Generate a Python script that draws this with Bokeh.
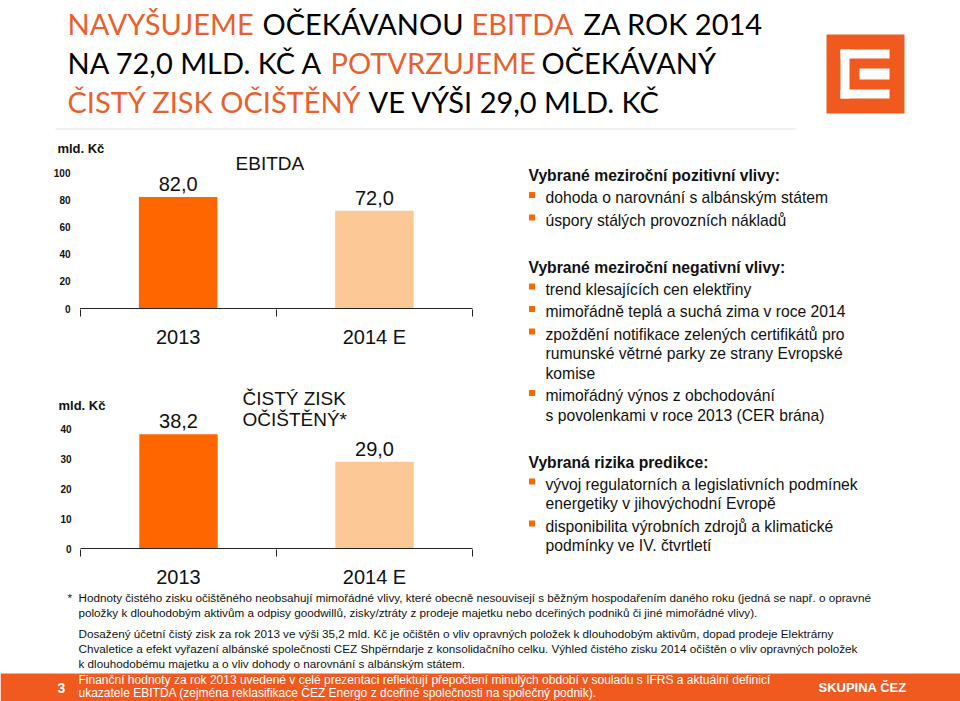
from bokeh.plotting import figure
from bokeh.layouts import column, row
from bokeh.models import Range1d, FixedTicker, Label
from bokeh.embed import file_html
from bokeh.resources import INLINE
from bokeh.core.properties import value

# ---------------- data ----------------
categories = ["2013", "2014 E"]
ebitda = [82.0, 72.0]
net_income = [38.2, 29.0]
ebitda_ticks = [0, 20, 40, 60, 80, 100]
net_ticks = [0, 10, 20, 30, 40]
unit_label = "mld. Kč"
ebitda_title = ["EBITDA"]
net_title = ["ČISTÝ ZISK", "OČIŠTĚNÝ*"]

title_lines = [
    [("NAVYŠUJEME", "o"), ("OČEKÁVANOU", "k"), ("EBITDA", "o"), ("ZA ROK 2014", "k")],
    [("NA 72,0 MLD. KČ A", "k"), ("POTVRZUJEME", "o"), ("OČEKÁVANÝ", "k")],
    [("ČISTÝ ZISK OČIŠTĚNÝ", "o"), ("VE VÝŠI 29,0 MLD. KČ", "k")],
]
# left edge of each title segment (page px)
title_starts = [[67, 262, 471, 583], [67, 330, 541], [67, 368]]

groups = [
    ("Vybrané meziroční pozitivní vlivy:", [
        ["dohoda o narovnání s albánským státem"],
        ["úspory stálých provozních nákladů"],
    ]),
    ("Vybrané meziroční negativní vlivy:", [
        ["trend klesajících cen elektřiny"],
        ["mimořádně teplá a suchá zima v roce 2014"],
        ["zpoždění notifikace zelených certifikátů pro",
         "rumunské větrné parky ze strany Evropské", "komise"],
        ["mimořádný výnos z obchodování",
         "s povolenkami v roce 2013 (CER brána)"],
    ]),
    ("Vybraná rizika predikce:", [
        ["vývoj regulatorních a legislativních podmínek",
         "energetiky v jihovýchodní Evropě"],
        ["disponibilita výrobních zdrojů a klimatické",
         "podmínky ve IV. čtvrtletí"],
    ]),
]

footnote_star = ["Hodnoty čistého zisku očištěného neobsahují mimořádné vlivy, které obecně nesouvisejí s běžným hospodařením daného roku (jedná se např. o opravné",
                 "položky k dlouhodobým aktivům a odpisy goodwillů, zisky/ztráty z prodeje majetku nebo dceřiných podniků či jiné mimořádné vlivy)."]
footnote_note = ["Dosažený účetní čistý zisk za rok 2013 ve výši 35,2 mld. Kč je očištěn o vliv opravných položek k dlouhodobým aktivům, dopad prodeje Elektrárny",
                 "Chvaletice a efekt vyřazení albánské společnosti CEZ Shpërndarje z konsolidačního celku. Výhled čistého zisku 2014 očištěn o vliv opravných položek",
                 "k dlouhodobému majetku a o vliv dohody o narovnání s albánským státem."]
footer_lines = ["Finanční hodnoty za rok 2013 uvedené v celé prezentaci reflektují přepočtení minulých období v souladu s IFRS a aktuální definicí",
                "ukazatele EBITDA (zejména reklasifikace ČEZ Energo z dceřiné společnosti na společný podnik)."]
page_number = "3"
brand_text = "SKUPINA ČEZ"

# ---------------- styles ----------------
BAR_COLORS = ["#FF6600", "#FBC896"]
TITLE_ORANGE = "#E8612C"
BRAND = "#F15A1F"
INK = "#111111"
FONT = "Liberation Sans"
TITLE_FONT = "Lato"


def fmt(v):
    return f"{v:.1f}".replace(".", ",")


def blank(x0, x1, y0, y1):
    p = figure(width=x1 - x0, height=y1 - y0, x_range=Range1d(x0, x1), y_range=Range1d(y1, y0),
               x_axis_location=None, y_axis_location=None, min_border=0,
               outline_line_color=None, toolbar_location=None, output_backend="svg")
    p.grid.visible = False
    return p


def bar_chart(vals, ticks, fig_box, axis_box, frame_left, top, label_right,
              title_lines, title_pos, unit_pos):
    fx0, fx1, fy0, fy1 = fig_box
    ax0, ax1, y_zero, y_tickmax = axis_box   # page px of x=0, x=n, y=0, y=max tick
    n = len(categories)
    ppx = (ax1 - ax0) / n                     # px per category
    ppy = (y_zero - y_tickmax) / ticks[-1]    # px per unit
    frame_right = ax1 + 2
    bottom = y_zero + 1
    p = figure(width=fx1 - fx0, height=fy1 - fy0,
               x_range=Range1d((frame_left - ax0) / ppx, (frame_right - ax0) / ppx),
               y_range=Range1d((y_zero - bottom) / ppy, (y_zero - top) / ppy),
               min_border_left=frame_left - fx0, min_border_right=fx1 - frame_right,
               min_border_top=top - fy0, min_border_bottom=fy1 - bottom,
               outline_line_color=None, toolbar_location=None, output_backend="svg")
    p.grid.visible = False

    def dx(px):
        return (px - ax0) / ppx

    def dy(py):
        return (y_zero - py) / ppy

    xs = [i + 0.5 for i in range(n)]
    p.vbar(x=xs, top=vals, bottom=0, width=0.4, color=BAR_COLORS, line_color=None)
    p.segment(x0=[0], y0=[0], x1=[n], y1=[0], line_color="#222222", line_width=1)
    p.text(x=xs, y=[v + 13.5 / ppy for v in vals], text=[fmt(v) for v in vals],
           text_align="center", text_baseline="middle", text_font=value(FONT),
           text_font_size="20px", text_color=INK)

    xa = p.xaxis[0]
    xa.ticker = FixedTicker(ticks=xs, minor_ticks=list(range(n + 1)))
    xa.major_label_overrides = {x: c for x, c in zip(xs, categories)}
    xa.major_tick_line_color = None
    xa.major_tick_out = 0
    xa.major_tick_in = 0
    xa.minor_tick_line_color = "#222222"
    xa.minor_tick_out = 7
    xa.minor_tick_in = 0
    xa.axis_line_color = None
    xa.major_label_text_font = FONT
    xa.major_label_text_font_size = "20px"
    xa.major_label_text_color = INK
    xa.major_label_standoff = 9

    ya = p.yaxis[0]
    ya.ticker = FixedTicker(ticks=ticks, minor_ticks=[])
    ya.axis_line_color = None
    ya.major_tick_line_color = None
    ya.major_tick_out = 0
    ya.major_tick_in = 0
    ya.minor_tick_line_color = None
    ya.major_label_text_font = FONT
    ya.major_label_text_font_size = "10px"
    ya.major_label_text_font_style = "bold"
    ya.major_label_text_color = INK
    ya.major_label_standoff = -(label_right - frame_left)

    p.add_layout(Label(x=dx(unit_pos[0]), y=dy(unit_pos[1]), text=unit_label,
                       text_align="left", text_baseline="middle",
                       text_font=FONT, text_font_size="13px", text_font_style="bold",
                       text_color=INK))
    tx, ty, talign, tstep = title_pos
    for i, t in enumerate(title_lines):
        p.add_layout(Label(x=dx(tx), y=dy(ty + i * tstep), text=t, text_align=talign,
                           text_baseline="middle", text_font=FONT,
                           text_font_size="19px", text_color=INK))
    return p


# ---------------- header ----------------
hdr = blank(0, 960, 0, 130)
seg_x, seg_y, seg_t, seg_c = [], [], [], []
for li, (line, starts) in enumerate(zip(title_lines, title_starts)):
    for (txt, col), sx in zip(line, starts):
        seg_x.append(sx)
        seg_y.append(23 + li * 39)
        seg_t.append(txt)
        seg_c.append(TITLE_ORANGE if col == "o" else "#000000")
hdr.text(x=seg_x, y=seg_y, text=seg_t, text_color=seg_c, text_font=value(TITLE_FONT),
         text_font_size="29px", text_baseline="middle", text_align="left")
hdr.segment(x0=[55], y0=[128.5], x1=[795], y1=[128.5], line_color="#ededed", line_width=1.5)
# logo
hdr.quad(left=[826], right=[904], top=[34], bottom=[113], color=BRAND, line_color=None)
hdr.quad(left=[840, 840, 840, 859], right=[889, 849, 889, 889],
         top=[49, 49, 89, 68], bottom=[58, 98, 98, 79], color="white", line_color=None)

# ---------------- charts ----------------
c1 = bar_chart(ebitda, ebitda_ticks, (0, 500, 130, 350), (78, 477, 313, 173),
               48, 140, 68, ebitda_title, (271, 164, "center", 0), (55, 148))
c2 = bar_chart(net_income, net_ticks, (0, 500, 350, 590), (80, 472, 553, 430),
               50, 365, 71, net_title, (242, 399, "left", 21.5), (58, 406))

# ---------------- right text ----------------
tx = blank(500, 960, 130, 590)
hx, hy, ht = [], [], []
ix, iy, it = [], [], []
bx, by = [], []
y = 175.0
for gi, (head, items) in enumerate(groups):
    if gi > 0:
        y += 47
    hx.append(528); hy.append(y); ht.append(head)
    for ii, item in enumerate(items):
        y += 22 if ii == 0 else 22.5
        bx.append(531.5); by.append(y - 2.5)
        for k, ln in enumerate(item):
            if k > 0:
                y += 19.5
            ix.append(545); iy.append(y); it.append(ln)
tx.text(x=hx, y=hy, text=ht, text_font=value(FONT), text_font_size="15.7px",
        text_font_style="bold", text_color=INK, text_baseline="middle")
tx.text(x=ix, y=iy, text=it, text_font=value(FONT), text_font_size="15.7px",
        text_color=INK, text_baseline="middle")
tx.scatter(x=bx, y=by, marker="square", size=6, color="#FF6600", line_color=None)

# ---------------- footer ----------------
ft = blank(0, 960, 590, 701)
fn_lines = footnote_star + footnote_note
fn_y = [597, 612, 633, 648, 663]
ft.text(x=[67], y=[fn_y[0]], text=["*"], text_font=value(FONT), text_font_size="11.7px",
        text_color=INK, text_baseline="middle")
ft.text(x=[78] * len(fn_lines), y=fn_y, text=fn_lines, text_font=value(FONT),
        text_font_size="11.7px", text_color=INK, text_baseline="middle")
ft.quad(left=[0], right=[960], top=[673], bottom=[701], color=BRAND, line_color=None)
ft.text(x=[78, 78], y=[679, 692], text=footer_lines, text_font=value(FONT),
        text_font_size="12px", text_color="white", text_baseline="middle")
ft.text(x=[61], y=[687], text=[page_number], text_font=value(FONT), text_font_size="14px",
        text_font_style="bold", text_color="white", text_align="center",
        text_baseline="middle")
ft.text(x=[818], y=[687], text=[brand_text], text_font=value(FONT), text_font_size="13px",
        text_font_style="bold", text_color="white", text_baseline="middle")

layout = column(hdr, row(column(c1, c2), tx), ft)
open("out.html", "w").write(file_html(layout, INLINE))
